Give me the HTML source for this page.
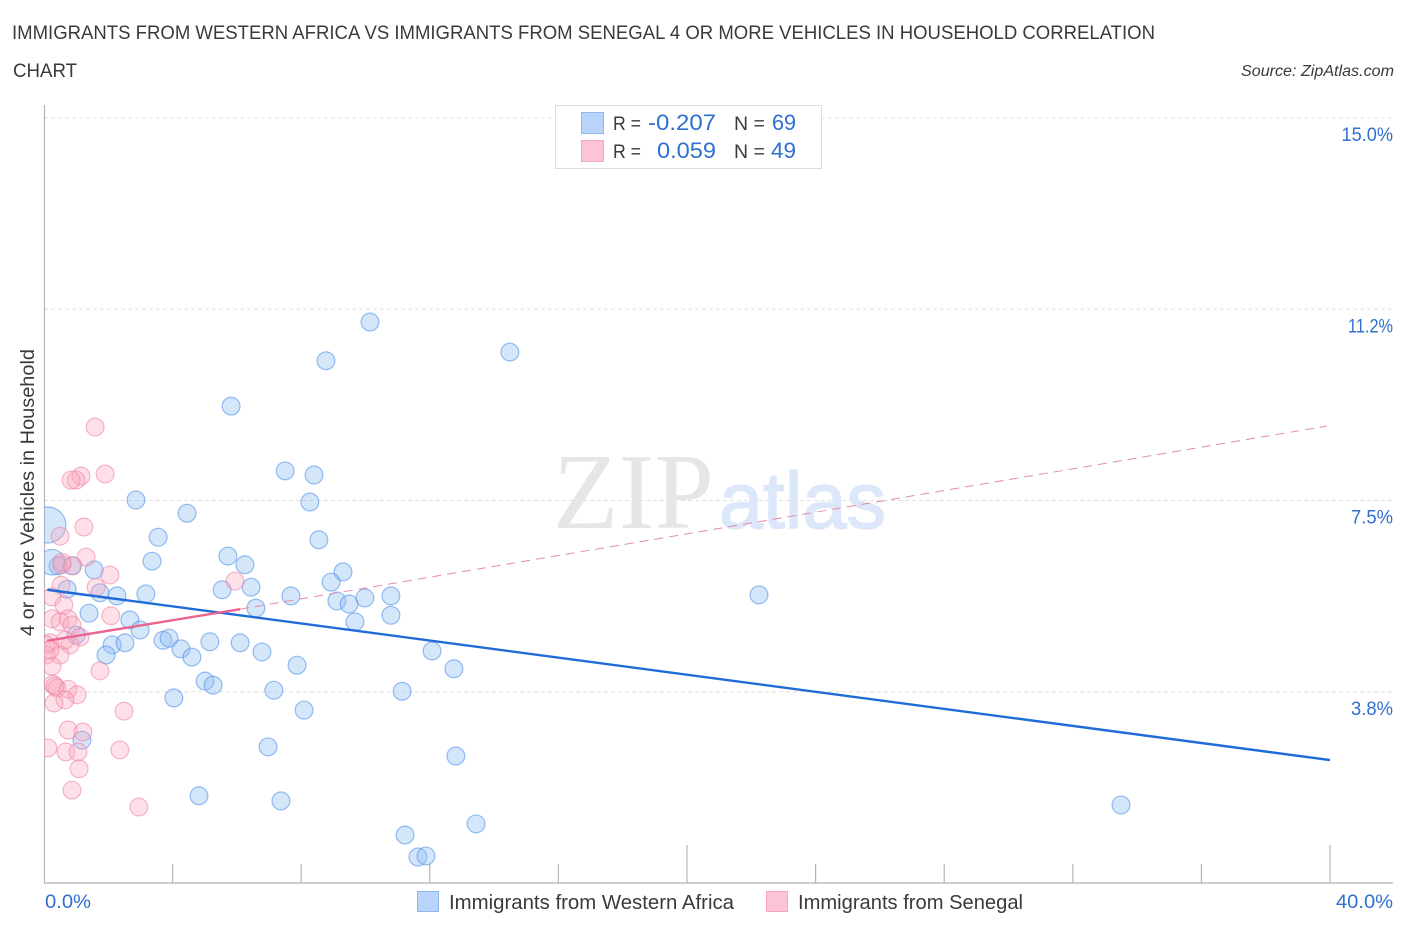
<!DOCTYPE html>
<html lang="en">
<head>
<meta charset="utf-8">
<title>Immigrants from Western Africa vs Immigrants from Senegal correlation chart</title>
<style>
html,body{margin:0;padding:0;background:#fff;width:1406px;height:930px;overflow:hidden}
svg{display:block}
text{font-family:"Liberation Sans",sans-serif}
</style>
</head>
<body>
<svg id="chart" xmlns="http://www.w3.org/2000/svg" width="1406" height="930" viewBox="0 0 1406 930">
  <defs><clipPath id="plot-clip"><rect x="44" y="100" width="1350" height="783"/></clipPath></defs>
  <rect width="1406" height="930" fill="#fff"/>
  <text x="12" y="39" font-size="19.5" fill="#3a3a3a" textLength="1143" lengthAdjust="spacingAndGlyphs">IMMIGRANTS FROM WESTERN AFRICA VS IMMIGRANTS FROM SENEGAL 4 OR MORE VEHICLES IN HOUSEHOLD CORRELATION</text>
  <text x="13" y="77" font-size="19.5" fill="#3a3a3a" textLength="64" lengthAdjust="spacingAndGlyphs">CHART</text>
  <text x="1241" y="76" font-size="15.5" font-style="italic" fill="#3a3a3a" textLength="153" lengthAdjust="spacingAndGlyphs">Source: ZipAtlas.com</text>

  <g id="grid"></g>
  <g>
    <text x="553" y="528" font-size="108" fill="#e6e6e6" style="font-family:'Liberation Serif',serif" textLength="161" lengthAdjust="spacingAndGlyphs">ZIP</text>
    <text x="719" y="528" font-size="80" fill="#dce8f9" stroke="#dce8f9" stroke-width="1.5" textLength="167" lengthAdjust="spacingAndGlyphs">atlas</text>
  </g>
  <g id="axes"></g>
  <g id="points-blue" clip-path="url(#plot-clip)"></g>
  <g id="points-pink" clip-path="url(#plot-clip)"></g>
  <g id="trends"></g>
  <g id="tick-labels"></g>

  <text transform="translate(34,636) rotate(-90)" font-size="19.5" fill="#3a3a3a" textLength="287" lengthAdjust="spacingAndGlyphs">4 or more Vehicles in Household</text>

  <g>
    <rect x="555.5" y="105.5" width="266" height="63" fill="#fff" stroke="#ddd"/>
    <rect x="581.5" y="112.5" width="22" height="21" fill="#b9d4fa" stroke="#8fb8ee"/>
    <rect x="581.5" y="140.5" width="22" height="21" fill="#fdc4d6" stroke="#f3a6bf"/>
    <text x="613" y="130" font-size="19.5" fill="#3a3a3a" textLength="28" lengthAdjust="spacingAndGlyphs">R =</text>
    <text x="648" y="130" font-size="22" fill="#2f6fd0" textLength="68" lengthAdjust="spacingAndGlyphs">-0.207</text>
    <text x="734" y="130" font-size="19.5" fill="#3a3a3a">N =</text>
    <text x="772" y="130" font-size="22" fill="#2f6fd0" textLength="24" lengthAdjust="spacingAndGlyphs">69</text>
    <text x="613" y="158" font-size="19.5" fill="#3a3a3a" textLength="28" lengthAdjust="spacingAndGlyphs">R =</text>
    <text x="657" y="158" font-size="22" fill="#2f6fd0" textLength="59" lengthAdjust="spacingAndGlyphs">0.059</text>
    <text x="734" y="158" font-size="19.5" fill="#3a3a3a">N =</text>
    <text x="771" y="158" font-size="22" fill="#2f6fd0" textLength="25" lengthAdjust="spacingAndGlyphs">49</text>
  </g>

  <g>
    <rect x="417.5" y="891.5" width="21" height="20" fill="#b9d4fa" stroke="#8fb8ee"/>
    <text x="449" y="909" font-size="20" fill="#3a3a3a" textLength="285" lengthAdjust="spacingAndGlyphs">Immigrants from Western Africa</text>
    <rect x="766.5" y="891.5" width="21" height="20" fill="#fdc4d6" stroke="#f3a6bf"/>
    <text x="798" y="909" font-size="20" fill="#3a3a3a" textLength="225" lengthAdjust="spacingAndGlyphs">Immigrants from Senegal</text>
  </g>
</svg>
<script>
const blueX = [10.14,8.77,14.49,5.82,7.50,8.40,8.27,2.86,4.45,3.55,8.55,3.36,5.72,6.25,9.30,8.93,6.44,5.54,7.68,9.11,9.49,9.98,10.79,10.79,9.67,6.59,22.24,3.17,2.27,1.74,0.72,1.56,0.44,0.87,1.40,2.67,2.99,1.00,2.12,2.52,3.70,3.89,4.26,4.60,5.16,6.10,6.78,7.87,12.07,12.75,1.93,5.01,5.26,4.04,7.15,8.09,11.14,6.97,1.18,12.81,4.82,7.37,11.23,11.63,11.88,13.44,33.50,0.25,0.12];
const blueY = [11.00,10.24,10.41,9.35,8.08,8.00,7.47,7.51,7.25,6.78,6.73,6.31,6.41,6.24,6.10,5.90,5.80,5.75,5.63,5.53,5.47,5.59,5.63,5.25,5.12,5.39,5.65,5.67,5.63,5.69,5.76,6.14,6.22,6.22,5.29,5.16,4.96,4.86,4.67,4.71,4.76,4.80,4.59,4.43,4.73,4.71,4.53,4.27,4.55,4.20,4.47,3.96,3.88,3.63,3.78,3.39,3.76,2.67,2.80,2.49,1.71,1.61,0.94,0.51,0.53,1.16,1.53,6.29,7.02];
const blueWeight = [1,1,1,1,1,1,1,1,1,1,1,1,1,1,1,1,1,1,1,1,1,1,1,1,1,1,1,1,1,1,1,1,1,1,1,1,1,1,1,1,1,1,1,1,1,1,1,1,1,1,1,1,1,1,1,1,1,1,1,1,1,1,1,1,1,1,1,2,4];
const pinkX = [1.59,1.90,1.15,1.00,0.84,1.24,0.50,1.31,0.56,0.90,2.05,1.62,0.53,0.25,0.62,2.08,0.25,0.75,0.50,0.87,1.12,0.81,0.65,0.19,0.06,0.50,0.06,0.25,1.74,0.28,0.40,0.75,1.03,0.65,0.31,2.49,0.75,1.21,0.12,0.68,1.06,2.36,1.09,0.87,2.95,5.94,0.34,0.19,0.56];
const pinkY = [8.94,8.02,7.98,7.90,7.90,6.98,6.80,6.39,6.24,6.22,6.04,5.80,5.84,5.61,5.45,5.24,5.18,5.18,5.12,5.06,4.82,4.67,4.76,4.71,4.67,4.47,4.47,4.25,4.16,3.90,3.82,3.80,3.69,3.59,3.53,3.37,3.00,2.96,2.65,2.57,2.57,2.61,2.24,1.82,1.49,5.92,3.86,4.57,6.29];
const yTickValues = [3.75,7.5,11.25,15];
const yTickLabels = ["3.8%","7.5%","11.2%","15.0%"];
const xTickValues = [4,8,12,16,20,24,28,32,36,40];
const xMajorTicks = [20,40];
const xEndLabels = ["0.0%","40.0%"];
const blueTrendX = [0.1,40];
const blueTrendY = [5.75,2.41];
const pinkTrendX = [0.1,6.1];
const pinkTrendY = [4.75,5.37];
const pinkDashX = [6.1,39.9];
const pinkDashY = [5.37,8.96];

const NS = "http://www.w3.org/2000/svg";
const xScale = v => 44 + v * 32.15;
const yScale = v => 883 - v * 51;
function make(tag, parent, attrs, text) {
  const el = document.createElementNS(NS, tag);
  for (const k in attrs) el.setAttribute(k, attrs[k]);
  if (text !== undefined) el.textContent = text;
  document.getElementById(parent).appendChild(el);
  return el;
}
// Advance widths of the reference's tick-label typeface, per character.
const glyphAdvance = {"0":13.5,"1":7,"2":12,"3":11,"4":11,"5":12,"6":12,"7":11,"8":12,"9":12,".":4,"%":15};
const labelWidth = s => s.split("").reduce((w, c) => w + (glyphAdvance[c] || 11), 0);
const RIGHT_EDGE = 1393;

yTickValues.forEach((v, i) => {
  const line = make("line", "grid", {x1:44, x2:RIGHT_EDGE, y1:yScale(v), y2:yScale(v), stroke:"#e0e0e0", "stroke-width":1, "stroke-dasharray":"4 3"});
  
  
  const w = labelWidth(yTickLabels[i]);
  const label = make("text", "tick-labels", {x:RIGHT_EDGE - w, y:yScale(v) + 23, "font-size":19.5, fill:"#2f6fd0", textLength:w, lengthAdjust:"spacingAndGlyphs"}, yTickLabels[i]);
  
  
});

const yAxis = make("line", "axes", {x1:44.5, x2:44.5, y1:105, y2:883, stroke:"#b5b5b5", "stroke-width":1.2});


const xAxis = make("line", "axes", {x1:44, x2:RIGHT_EDGE, y1:883, y2:883, stroke:"#bdbdbd", "stroke-width":1.4});


xTickValues.forEach(v => {
  const top = xMajorTicks.includes(v) ? 845 : 864;
  const tick = make("line", "axes", {x1:xScale(v), x2:xScale(v), y1:top, y2:883, stroke:"#b5b5b5", "stroke-width":1.2});
  
  
});
const wMin = labelWidth(xEndLabels[0]);
const xLabelLeft = make("text", "tick-labels", {x:45, y:908, "font-size":19.5, fill:"#2f6fd0", textLength:wMin, lengthAdjust:"spacingAndGlyphs"}, xEndLabels[0]);


const wMax = labelWidth(xEndLabels[1]);
const xLabelRight = make("text", "tick-labels", {x:RIGHT_EDGE - wMax, y:908, "font-size":19.5, fill:"#2f6fd0", textLength:wMax, lengthAdjust:"spacingAndGlyphs"}, xEndLabels[1]);



blueX.forEach((v, i) => {
  const c = make("circle", "points-blue", {cx:xScale(v), cy:yScale(blueY[i]), r:8.9 * Math.sqrt(blueWeight[i]) + (blueWeight[i] > 1 ? 0.2 : 0), fill:"#8fbcf3", "fill-opacity":0.38, stroke:"#4f8fe6", "stroke-opacity":0.58, "stroke-width":1.2});
  
  
});
pinkX.forEach((v, i) => {
  const c = make("circle", "points-pink", {cx:xScale(v), cy:yScale(pinkY[i]), r:8.9, fill:"#f9a8c0", "fill-opacity":0.36, stroke:"#ec7fa2", "stroke-opacity":0.55, "stroke-width":1.2});
  
  
});

const dash = make("line", "trends", {x1:xScale(pinkDashX[0]), y1:yScale(pinkDashY[0]), x2:xScale(pinkDashX[1]), y2:yScale(pinkDashY[1]), stroke:"#e58aa8", "stroke-width":1, "stroke-dasharray":"9 6"});


const blueTrend = make("line", "trends", {x1:xScale(blueTrendX[0]), y1:yScale(blueTrendY[0]), x2:xScale(blueTrendX[1]), y2:yScale(blueTrendY[1]), stroke:"#1f6bd8", "stroke-width":2.4});


const pinkTrend = make("line", "trends", {x1:xScale(pinkTrendX[0]), y1:yScale(pinkTrendY[0]), x2:xScale(pinkTrendX[1]), y2:yScale(pinkTrendY[1]), stroke:"#ea6492", "stroke-width":2.4});


</script>
</body>
</html>
